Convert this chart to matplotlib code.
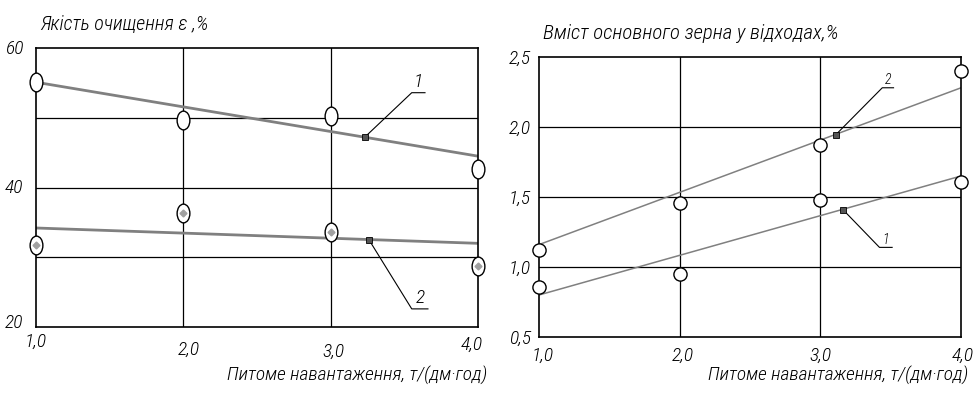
import matplotlib
matplotlib.use("Agg")
import matplotlib.pyplot as plt
import matplotlib.transforms as mtransforms
import numpy as np
from matplotlib.path import Path

plt.rcParams['font.family'] = ['Roboto Condensed', 'Liberation Sans Narrow',
                               'Liberation Sans', 'DejaVu Sans']
plt.rcParams['font.style'] = 'italic'
plt.rcParams['font.weight'] = 'light'

# ---------------- data ----------------
x_load = [1.0, 2.0, 3.0, 4.0]
x_tick_labels = ["1,0", "2,0", "3,0", "4,0"]

# left chart: cleaning quality, %
quality_1 = [55.1, 49.7, 50.3, 42.7]
quality_2 = [31.7, 36.3, 33.6, 28.7]
quality_fit1 = [55.1, 44.5]          # trend line at x=1 and x=4
quality_fit2 = [34.2, 32.0]
quality_yticks = [20, 40, 60]
quality_ylabels = ["20", "40", "60"]

# right chart: main grain in waste, %
grain_2 = [1.12, 1.46, 1.87, 2.40]
grain_1 = [0.86, 0.95, 1.48, 1.61]
grain_fit2 = [1.16, 2.28]
grain_fit1 = [0.80, 1.65]
grain_yticks = [0.5, 1.0, 1.5, 2.0, 2.5]
grain_ylabels = ["0,5", "1,0", "1,5", "2,0", "2,5"]

fit_x = [1.0, 4.0]

# callouts: (label, point on line, elbow, underline end)
left_callouts = [
    ("1", (3.23, 47.2), (3.55, 53.6), (3.64, 53.6)),
    ("2", (3.26, 32.5), (3.55, 22.6), (3.66, 22.6)),
]
right_callouts = [
    ("2", (3.11, 1.945), (3.44, 2.28), (3.52, 2.28)),
    ("1", (3.16, 1.41), (3.42, 1.14), (3.51, 1.14)),
]

GRAY = "#808080"
FS_TICK = 14
FS_TITLE = 14.5
FS_XLABEL = 14

# elliptical open marker
circ = Path.unit_circle()
ellipse = Path(circ.vertices * np.array([0.68, 1.0]), circ.codes)

fig = plt.figure(figsize=(9.76, 3.94), dpi=100)

# ---------- left ----------
ax1 = fig.add_axes([0.0369, 0.170, 0.4529, 0.708])
ax1.set_xlim(1, 4)
ax1.set_ylim(20, 60)
for v in [30, 40, 50]:
    ax1.axhline(v, color="black", lw=0.9, zorder=1)
for v in [2, 3]:
    ax1.axvline(v, color="black", lw=0.9, zorder=1)
ax1.plot(fit_x, quality_fit1, color=GRAY, lw=2.0, zorder=2)
ax1.plot(fit_x, quality_fit2, color=GRAY, lw=2.0, zorder=2)
ax1.plot(x_load, quality_1, ls="none", marker=ellipse, ms=13.5, mfc="white",
         mec="black", mew=1.0, zorder=4, clip_on=False)
ax1.plot(x_load, quality_2, ls="none", marker=ellipse, ms=13.5, mfc="white",
         mec="black", mew=1.0, zorder=4, clip_on=False)
ax1.plot(x_load, quality_2, ls="none", marker="D", ms=3.5, mfc="#a0a0a0",
         mec="#a0a0a0", zorder=5, clip_on=False)
for lab, p, e, u in left_callouts:
    ax1.plot([p[0], e[0], u[0]], [p[1], e[1], u[1]], color="black", lw=0.8, zorder=3)
    ax1.plot([p[0]], [p[1]], marker="s", ms=4.5, mfc="#555555", mec="black",
             mew=0.6, zorder=6)
    ax1.annotate(lab, xy=((e[0] + u[0]) / 2, e[1]), xytext=(0, 1),
                 textcoords="offset points", fontsize=14, ha="center", va="bottom")
ax1.set_xticks(x_load)
ax1.set_xticklabels(x_tick_labels, fontsize=FS_TICK)
ax1.set_yticks(quality_yticks)
ax1.set_yticklabels(quality_ylabels, fontsize=FS_TICK)
ax1.tick_params(length=0, pad=9)
ax1.tick_params(axis="x", pad=8)
# hand-drawn look: labels sit at slightly uneven positions
for lbl, (dx, dy) in zip(ax1.get_xticklabels(),
                         [(0, 5), (5, -3), (3, -5), (-6, 2)]):
    lbl.set_transform(lbl.get_transform() +
                      mtransforms.ScaledTranslation(dx / 100, dy / 100, fig.dpi_scale_trans))
for lbl, (dx, dy) in zip(ax1.get_yticklabels(), [(0, 6), (0, 2), (0, 1)]):
    lbl.set_transform(lbl.get_transform() +
                      mtransforms.ScaledTranslation(dx / 100, dy / 100, fig.dpi_scale_trans))
for s in ax1.spines.values():
    s.set_linewidth(1.2)
fig.text(0.041, 0.938, "Якість очищення ε ,%", fontsize=FS_TITLE, ha="left", va="center")
fig.text(0.499, 0.046, "Питоме навантаження, т/(дм·год)", fontsize=FS_XLABEL,
         ha="right", va="center")

# ---------- right ----------
ax2 = fig.add_axes([0.5523, 0.1447, 0.4324, 0.7107])
ax2.set_xlim(1, 4)
ax2.set_ylim(0.5, 2.5)
for v in [1.0, 1.5, 2.0]:
    ax2.axhline(v, color="black", lw=0.9, zorder=1)
for v in [2, 3]:
    ax2.axvline(v, color="black", lw=0.9, zorder=1)
ax2.plot(fit_x, grain_fit2, color=GRAY, lw=1.1, zorder=2)
ax2.plot(fit_x, grain_fit1, color=GRAY, lw=1.1, zorder=2)
ax2.plot(x_load, grain_2, ls="none", marker="o", ms=9.5, mfc="white",
         mec="black", mew=1.0, zorder=4, clip_on=False)
ax2.plot(x_load, grain_1, ls="none", marker="o", ms=9.5, mfc="white",
         mec="black", mew=1.0, zorder=4, clip_on=False)
for lab, p, e, u in right_callouts:
    ax2.plot([p[0], e[0], u[0]], [p[1], e[1], u[1]], color="black", lw=0.8, zorder=3)
    ax2.plot([p[0]], [p[1]], marker="s", ms=4, mfc="#555555", mec="black",
             mew=0.6, zorder=6)
    ax2.annotate(lab, xy=((e[0] + u[0]) / 2, e[1]), xytext=(0, 0.5),
                 textcoords="offset points", fontsize=10, ha="center", va="bottom")
ax2.set_xticks(x_load)
ax2.set_xticklabels(x_tick_labels, fontsize=FS_TICK)
ax2.set_yticks(grain_yticks)
ax2.set_yticklabels(grain_ylabels, fontsize=FS_TICK)
ax2.tick_params(length=0, pad=6)
ax2.tick_params(axis="x", pad=7)
for lbl, dx in zip(ax2.get_xticklabels(), [4, 3, 0, 2]):
    lbl.set_transform(lbl.get_transform() +
                      mtransforms.ScaledTranslation(dx / 100, 0, fig.dpi_scale_trans))
for s in ax2.spines.values():
    s.set_linewidth(1.2)
fig.text(0.556, 0.914, "Вміст основного зерна у відходах,%", fontsize=15,
         ha="left", va="center")
fig.text(0.992, 0.046, "Питоме навантаження, т/(дм·год)", fontsize=FS_XLABEL,
         ha="right", va="center")

fig.savefig("out.png", dpi=100, facecolor="white")
